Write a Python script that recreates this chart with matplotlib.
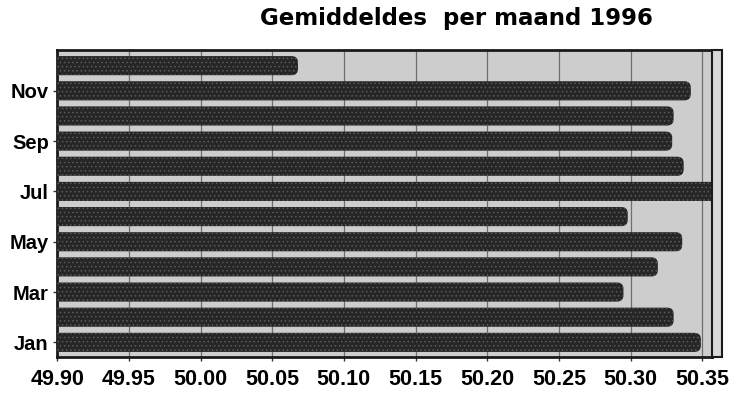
import numpy as np
import matplotlib
matplotlib.use("Agg")
import matplotlib.pyplot as plt
from matplotlib.patches import FancyBboxPatch, Rectangle

months = ["Jan", "Feb", "Mar", "Apr", "May", "Jun",
          "Jul", "Aug", "Sep", "Oct", "Nov", "Dec"]
values = [50.349, 50.330, 50.295, 50.319, 50.336, 50.298,
          50.365, 50.337, 50.329, 50.330, 50.342, 50.068]
shown_months = ["Jan", "Mar", "May", "Jul", "Sep", "Nov"]
xticks = [49.90, 49.95, 50.00, 50.05, 50.10, 50.15, 50.20, 50.25, 50.30, 50.35]

plt.rcParams['font.family'] = ['Liberation Sans', 'DejaVu Sans']
plt.rcParams['hatch.linewidth'] = 0.6

fig = plt.figure(figsize=(7.42, 3.94), dpi=100)
ax = fig.add_axes([0.077, 0.094, 0.883, 0.779])

base = 49.90
y = np.arange(len(months))
widths = [v - base for v in values]
bars = ax.barh(y, widths, left=base, height=0.76, color="#262626",
               edgecolor="#5a5a5a", hatch="....", linewidth=0, zorder=3)

# swap the plain bars for rounded ones (same geometry)
for b in bars:
    b.set_visible(False)
    fb = FancyBboxPatch((b.get_x() - 0.02, b.get_y()), b.get_width() + 0.02,
                        b.get_height(),
                        boxstyle="round,pad=0,rounding_size=0.0045",
                        mutation_aspect=55, facecolor="#262626",
                        edgecolor="#5a5a5a", hatch="....", linewidth=0,
                        zorder=3)
    ax.add_patch(fb)

ax.set_facecolor("#cdcdcd")
ax.set_xlim(49.90, 50.357)
ax.set_ylim(-0.58, 11.62)
ax.set_xticks(xticks)
ax.set_xticklabels(["%.2f" % t for t in xticks], fontsize=15.5, fontweight="bold")
ax.set_yticks([months.index(m) for m in shown_months])
ax.set_yticklabels(shown_months, fontsize=14.5, fontweight="bold")
ax.tick_params(axis="both", length=3, width=1, color="#333333", pad=3)
ax.tick_params(axis="x", pad=6)
ax.grid(axis="x", color="#6e6e6e", linewidth=0.9, zorder=1)
for s in ax.spines.values():
    s.set_linewidth(2)
    s.set_color("#1a1a1a")

# side panel of the 3d frame
pos = ax.get_position()
fig.patches.append(Rectangle((pos.x1, pos.y0), 10 / 742, pos.height,
                             transform=fig.transFigure, facecolor="#d8d8d8",
                             edgecolor="#1a1a1a", linewidth=1.5))

fig.text(0.615, 0.952, "Gemiddeldes  per maand 1996", ha="center", va="center",
         fontsize=16.5, fontweight="bold", family="DejaVu Sans")

fig.savefig("out.png", dpi=100, facecolor="white")
